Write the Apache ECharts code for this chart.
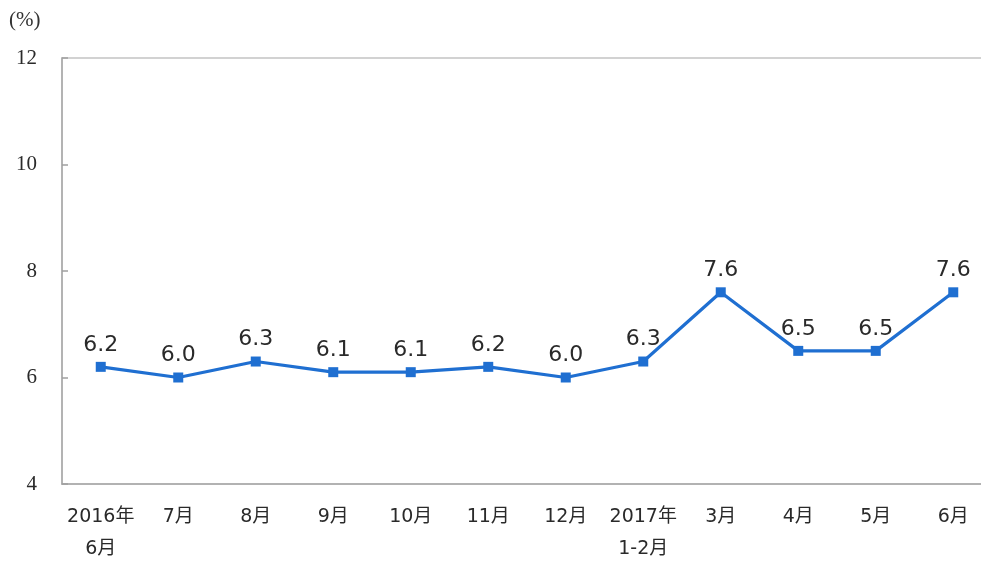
<!DOCTYPE html>
<html><head><meta charset="utf-8">
<script src="https://cdn.jsdelivr.net/npm/echarts@6/dist/echarts.min.js"></script>
<style>html,body{margin:0;padding:0;background:#fff}#c{width:981px;height:562px}</style>
</head><body><div id="c"></div>
<script>
const categories = ['2016年\n6月','7月','8月','9月','10月','11月','12月','2017年\n1-2月','3月','4月','5月','6月'];
const values = [6.2, 6.0, 6.3, 6.1, 6.1, 6.2, 6.0, 6.3, 7.6, 6.5, 6.5, 7.6];
const yTicks = {min: 4, max: 12, interval: 2};
const unitLabel = '(%)';

const chart = echarts.init(document.getElementById('c'));
chart.setOption({
  animation: false,
  backgroundColor: '#fff',
  grid: {left: 62, width: 930, top: 58, height: 426, outerBoundsMode: 'none', containLabel: false, show: true, borderColor: '#c4c4c4', borderWidth: 1.5},
  graphic: [{type: 'text', left: 9, top: 10, style: {text: unitLabel, font: '21px "Liberation Serif"', fill: '#333'}}],
  xAxis: {
    type: 'category', data: categories, boundaryGap: true,
    axisLine: {lineStyle: {color: '#a8a8a8', width: 1.5}},
    axisTick: {inside: true, length: 6, lineStyle: {color: '#a0a0a0', width: 1.5}},
    axisLabel: {color: '#2a2a2a', fontSize: 19, fontFamily: '"DejaVu Sans", "Noto Sans CJK SC"', lineHeight: 32, margin: 17, interval: 0}
  },
  yAxis: {
    type: 'value', min: yTicks.min, max: yTicks.max, interval: yTicks.interval,
    splitLine: {show: false},
    axisLine: {show: true, lineStyle: {color: '#a8a8a8', width: 1.5}},
    axisTick: {show: true, inside: true, length: 6, lineStyle: {color: '#a0a0a0', width: 1.5}},
    axisLabel: {color: '#2a2a2a', fontSize: 21, fontFamily: '"Liberation Serif"', margin: 25}
  },
  series: [{
    type: 'line', data: values,
    symbol: 'rect', symbolSize: 10,
    lineStyle: {color: '#1f6fd1', width: 3.2},
    itemStyle: {color: '#1f6fd1'},
    label: {show: true, position: 'top', distance: 6, color: '#2a2a2a', fontSize: 22, fontFamily: '"DejaVu Sans"', formatter: p => p.value.toFixed(1)}
  }]
});
</script></body></html>
